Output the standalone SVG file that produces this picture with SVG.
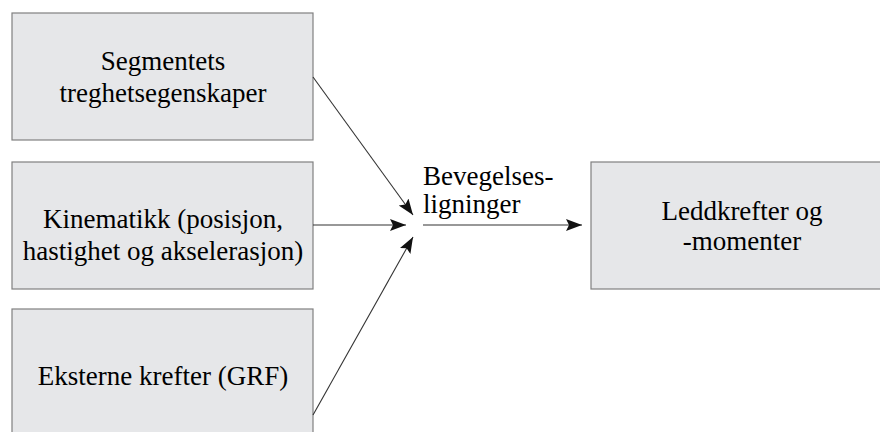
<svg xmlns="http://www.w3.org/2000/svg" width="880" height="432" viewBox="0 0 880 432">
<defs>
<marker id="ah" markerUnits="userSpaceOnUse" markerWidth="18" markerHeight="14" refX="16" refY="6" orient="auto">
<path d="M0,0 L16,6 L0,12 L3,6 Z" fill="#111"/>
</marker>
</defs>
<rect width="880" height="432" fill="#fff"/>
<g id="n1">
<rect x="12" y="13" width="301" height="127" fill="#e6e7e9" stroke="#808080" stroke-width="1.2"/>
<text x="163" y="70" font-family="Liberation Serif" font-size="27" text-anchor="middle">Segmentets</text>
<text x="163" y="102" font-family="Liberation Serif" font-size="27" text-anchor="middle">treghetsegenskaper</text>
</g>
<g id="n2">
<rect x="12" y="162" width="301" height="127" fill="#e6e7e9" stroke="#808080" stroke-width="1.2"/>
<text x="163" y="228" font-family="Liberation Serif" font-size="27" text-anchor="middle">Kinematikk (posisjon,</text>
<text x="163" y="260" font-family="Liberation Serif" font-size="27" text-anchor="middle">hastighet og akselerasjon)</text>
</g>
<g id="n3">
<rect x="12" y="309" width="301" height="140" fill="#e6e7e9" stroke="#808080" stroke-width="1.2"/>
<text x="163" y="385" font-family="Liberation Serif" font-size="27" text-anchor="middle">Eksterne krefter (GRF)</text>
</g>
<g id="n4">
<rect x="591" y="162" width="300" height="127" fill="#e6e7e9" stroke="#808080" stroke-width="1.2"/>
<text x="742" y="220" font-family="Liberation Serif" font-size="27" text-anchor="middle">Leddkrefter og</text>
<text x="742" y="250" font-family="Liberation Serif" font-size="27" text-anchor="middle">-momenter</text>
</g>
<g id="label">
<text x="423" y="185" font-family="Liberation Serif" font-size="27">Bevegelses-</text>
<text x="423" y="213" font-family="Liberation Serif" font-size="27">ligninger</text>
</g>
<g id="connectors" stroke="#333" stroke-width="1.1" fill="none" marker-end="url(#ah)">
<line x1="313" y1="77" x2="413" y2="215"/>
<line x1="313" y1="225" x2="406" y2="225"/>
<line x1="313" y1="415" x2="413" y2="237"/>
<line x1="423" y1="225" x2="582" y2="225"/>
</g>
</svg>
